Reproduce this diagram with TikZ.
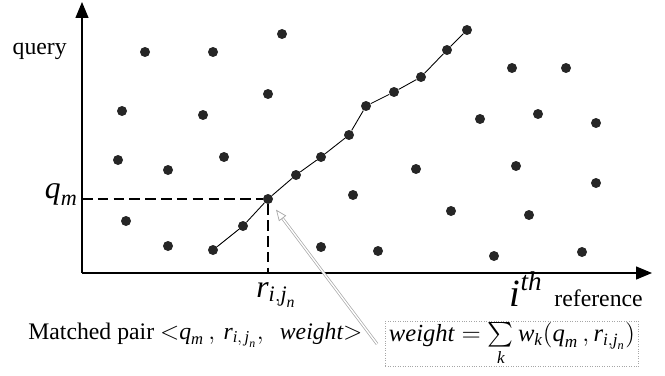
\documentclass[tikz,border=0pt]{standalone}
\usepackage{amsmath,amssymb}
\usepackage{fontspec}
\setmainfont{Liberation Serif}
\usepackage{tikz}
\usetikzlibrary{arrows.meta, positioning, calc}

% Times-like italic letters inside math
\newcommand{\tv}[1]{\textit{#1}}

\tikzset{
  dot/.style={circle, fill=black!85, inner sep=0pt, minimum size=0.2cm},
  axis/.style={line width=0.8pt, -{Triangle[length=0.32cm, width=0.26cm]}},
  guide/.style={line width=1.6pt, dash pattern=on 6pt off 3pt},
  chain/.style={line width=0.5pt},
  pointer/.style={draw=gray!70, double=white, double distance=0.8pt, line width=0.4pt,
    -{Triangle[open, length=0.22cm, width=0.18cm]}, shorten >=0.16cm},
  txt/.style={inner sep=0pt, font=\fontsize{13.5}{16}\selectfont},
  big/.style={inner sep=0pt, font=\fontsize{18}{22}\selectfont},
  wbox/.style={draw=gray!70, densely dotted, inner xsep=2pt, inner ysep=0.5pt,
    font=\fontsize{14}{17}\selectfont}
}

\begin{document}
\begin{tikzpicture}[x=0.02cm, y=-0.02cm]
    \useasboundingbox (0,0) rectangle (665,375);

    % Axes
    \coordinate (o) at (82,273);
    \coordinate (ytop) at (82,2);
    \coordinate (xend) at (652,273);
    \draw[axis] (o) -- (ytop);
    \draw[axis] (o) -- (xend);
    \node[txt, anchor=base east] (qlab) at (67,55) {query};
    \node[txt, anchor=base east] (ilab) at (643,306)
      {{\fontsize{22}{26}\selectfont$\tv{i}^{\tv{th}}$}\hspace{0.5em}reference};

    % Scattered points
    \foreach \px/\py [count=\k] in {145/52, 213/52, 282/34, 122/111, 203/115, 268/94,
        118/160, 168/170, 224/157, 126/221, 168/246, 321/247, 353/195, 378/251,
        416/169, 451/211, 480/119, 494/256, 512/68, 516/166, 529/215, 538/114,
        566/68, 582/252, 596/123, 596/183}
      \node[dot] (p\k) at (\px,\py) {};

    % Matching path
    \foreach \px/\py [count=\k] in {213/250, 243/226, 268/199, 296/175, 321/157,
        349/135, 366/106, 394/92, 421/77, 447/50, 467/30}
      \node[dot] (c\k) at (\px,\py) {};
    \draw[chain] (c1) -- (c2) -- (c3) -- (c4) -- (c5) -- (c6) -- (c7) -- (c8)
        -- (c9) -- (c10) -- (c11);

    % Matched point projections
    \coordinate (qm) at (o |- c3);
    \coordinate (rj) at (c3 |- o);
    \draw[guide] (qm) -- (c3) -- (rj);
    \node[big, anchor=base east] (qmlab) at (78,198) {$\tv{q}_{\tv{m}}$};
    \node[big, anchor=base west] (rlab) at (256,297) {$\tv{r}_{\tv{i},\tv{j}_{\tv{n}}}$};

    % Matched pair and weight
    \node[txt, anchor=base west] (pair) at (28,339) {Matched pair
      ${<}\tv{q}_{\tv{m}}\,,\,\tv{r}_{\tv{i},\,\tv{j}_{\tv{n}}},\ \ \tv{weight}{>}$};
    \node[wbox] (wt) at (512,344)
      {$\tv{weight}=\sum\limits_{\tv{k}} \tv{w}_{\tv{k}}(\tv{q}_{\tv{m}}\,,\tv{r}_{\tv{i},\tv{j}_{\tv{n}}})$};
    \draw[pointer] ($(wt.west)+(-8,0)$) -- (c3);

\end{tikzpicture}
\end{document}
